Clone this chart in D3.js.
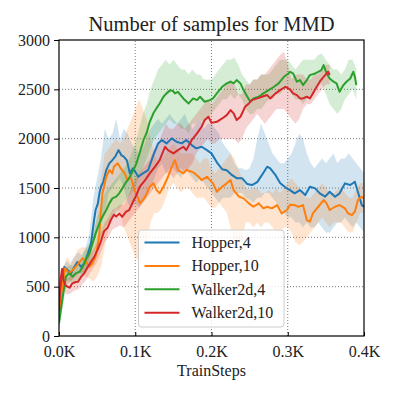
<!doctype html>
<html lang="en">
<head>
<meta charset="UTF-8">
<title>Number of samples for MMD</title>
<style>
  body { margin: 0; background: #fff; }
  svg text { font-family: "Liberation Serif", "DejaVu Serif", serif; fill: #222; }
</style>
</head>
<body>
<div class="chart"></div>
<script src="https://d3js.org/d3.v7.min.js"></script>
<script>
  // values: [trainStep, mean]
  const hopper4 = [[0,160],[3,520],[7,700],[11,670],[16,635],[20,700],[24,750],[29,700],[33,736],[38,838],[42,939],[46,1175],[48,1277],[51,1344],[53,1446],[55,1513],[58,1560],[62,1682],[66,1750],[70,1783],[74,1820],[78,1884],[82,1830],[85,1817],[89,1780],[93,1648],[97,1700],[100,1665],[104,1614],[110,1648],[117,1682],[123,1817],[130,1952],[135,1986],[141,1952],[148,2003],[154,1969],[161,1952],[167,1986],[174,1935],[180,1902],[187,1918],[194,1884],[200,1851],[207,1760],[214,1690],[220,1680],[227,1630],[233,1600],[240,1600],[247,1540],[253,1530],[260,1560],[266,1630],[273,1716],[277,1700],[284,1630],[290,1550],[297,1505],[303,1479],[309,1446],[316,1479],[323,1429],[329,1513],[336,1496],[342,1446],[349,1412],[355,1462],[362,1412],[368,1446],[375,1547],[382,1530],[388,1564],[392,1462],[397,1327],[400,1310]]
  const hopper10 = [[0,230],[5,534],[8,686],[13,635],[18,669],[22,702],[27,753],[31,787],[35,753],[40,702],[44,736],[48,804],[51,939],[53,1040],[55,1277],[57,1446],[59,1513],[62,1614],[66,1682],[70,1648],[72,1716],[77,1750],[81,1699],[86,1648],[90,1580],[94,1614],[99,1480],[103,1412],[106,1344],[110,1380],[113,1412],[119,1513],[124,1547],[128,1479],[132,1446],[137,1513],[143,1614],[148,1716],[152,1783],[156,1682],[163,1648],[167,1682],[174,1665],[178,1648],[183,1614],[187,1580],[194,1614],[198,1580],[202,1547],[207,1462],[214,1513],[220,1547],[225,1580],[229,1479],[236,1412],[242,1395],[249,1344],[255,1310],[262,1344],[268,1294],[273,1310],[279,1294],[286,1327],[292,1243],[299,1277],[303,1330],[309,1327],[314,1310],[320,1327],[325,1175],[329,1158],[333,1243],[340,1310],[347,1378],[351,1344],[355,1277],[362,1310],[368,1327],[375,1294],[379,1243],[384,1226],[388,1260],[392,1378],[397,1412],[400,1395]]
  const walker4 = [[0,130],[5,398],[9,601],[13,635],[18,601],[22,635],[27,652],[31,702],[35,770],[40,838],[44,939],[48,1040],[53,1142],[57,1209],[62,1277],[66,1344],[70,1395],[75,1412],[79,1446],[83,1496],[88,1560],[92,1600],[96,1660],[101,1740],[106,1860],[111,1990],[115,2060],[119,2170],[124,2260],[128,2310],[132,2357],[137,2425],[141,2459],[146,2492],[150,2480],[152,2459],[156,2475],[163,2408],[170,2357],[176,2408],[181,2391],[185,2425],[191,2374],[198,2391],[202,2408],[207,2459],[214,2526],[220,2560],[225,2577],[229,2560],[233,2594],[238,2560],[242,2492],[247,2425],[251,2374],[255,2408],[262,2425],[268,2459],[275,2492],[282,2526],[288,2560],[295,2627],[301,2661],[303,2678],[307,2661],[312,2577],[316,2594],[320,2543],[325,2594],[329,2644],[336,2661],[340,2678],[344,2695],[347,2746],[351,2661],[355,2610],[360,2577],[364,2560],[368,2475],[373,2543],[377,2577],[382,2610],[386,2678],[388,2627],[390,2543]]
  const walker10 = [[0,250],[2,560],[4,680],[6,560],[8,520],[11,500],[14,490],[17,530],[21,545],[25,550],[29,600],[33,635],[38,702],[42,753],[46,800],[51,880],[55,960],[59,1060],[64,1100],[68,1175],[72,1230],[75,1210],[79,1240],[83,1209],[88,1260],[92,1277],[97,1360],[101,1420],[106,1513],[113,1580],[119,1648],[126,1716],[132,1783],[139,1918],[143,1884],[150,1851],[156,1884],[163,1918],[167,1884],[174,1986],[181,2053],[187,2121],[191,2188],[196,2222],[200,2160],[207,2171],[214,2205],[220,2239],[225,2290],[229,2256],[233,2188],[238,2222],[244,2323],[249,2357],[253,2391],[260,2408],[266,2425],[273,2442],[277,2408],[284,2459],[290,2492],[297,2526],[303,2500],[307,2459],[312,2442],[316,2408],[320,2408],[325,2425],[329,2408],[333,2459],[338,2526],[342,2577],[347,2627],[351,2661],[353,2678],[355,2644]]

  // shaded spread: [trainStep, low, high]
  const hopper4Band = [[0,100,250],[5,450,700],[10,580,760],[15,560,720],[20,600,800],[25,650,850],[30,620,820],[35,650,900],[40,780,1050],[45,950,1400],[50,1050,1600],[55,1150,1800],[60,1250,2100],[65,1450,2000],[70,1500,2050],[75,1550,2200],[80,1600,2000],[85,1500,2100],[90,1350,2050],[95,1300,1950],[100,1350,1900],[105,1300,1850],[110,1350,1900],[115,1400,2000],[120,1500,2100],[125,1600,2150],[130,1700,2200],[135,1750,2150],[140,1650,2200],[145,1700,2250],[150,1700,2200],[155,1650,2150],[160,1600,2200],[165,1700,2250],[170,1650,2150],[175,1600,2100],[180,1550,2150],[185,1600,2200],[190,1550,2100],[195,1500,2150],[200,1450,2150],[205,1400,2100],[210,1350,2050],[215,1400,1950],[220,1400,1900],[225,1400,1850],[230,1450,1750],[235,1450,1700],[240,1450,1700],[245,1400,1680],[250,1380,1700],[255,1350,1800],[260,1400,2000],[265,1400,2150],[270,1450,2050],[275,1450,1950],[280,1400,1850],[285,1350,1800],[290,1300,1750],[295,1250,1750],[300,1200,1800],[305,1200,1850],[310,1150,1950],[315,1150,2050],[320,1100,2000],[325,1150,1850],[330,1100,1750],[335,1100,1700],[340,1150,1750],[345,1100,1800],[350,1050,1750],[355,1050,1800],[360,1100,1850],[365,1150,1750],[370,1150,1800],[375,1200,1800],[380,1150,1850],[385,1100,1800],[390,1150,1750],[395,1100,1700],[400,1050,1650]]
  const hopper10Band = [[0,100,300],[5,400,650],[10,550,800],[15,550,750],[20,580,800],[25,620,880],[30,650,900],[35,600,900],[40,580,850],[45,550,950],[50,600,1250],[55,700,1600],[60,900,1850],[65,1100,1900],[70,1250,1950],[75,1300,2000],[80,1250,1950],[85,1100,2000],[90,1000,2100],[95,900,2200],[100,800,2300],[105,750,2400],[110,850,2300],[115,950,2200],[120,1150,2000],[125,1250,1850],[130,1250,1750],[135,1300,1800],[140,1400,1850],[145,1500,1900],[150,1550,1950],[155,1500,1900],[160,1450,1850],[165,1500,1850],[170,1500,1850],[175,1450,1850],[180,1400,1800],[185,1400,1750],[190,1400,1800],[195,1350,1800],[200,1300,1700],[205,1300,1650],[210,1350,1700],[215,1300,1750],[220,1250,1800],[225,1100,1850],[230,950,1800],[235,900,1700],[240,1000,1600],[245,1150,1500],[250,1150,1480],[255,1100,1500],[260,1150,1500],[265,1100,1450],[270,1150,1450],[275,1150,1480],[280,1100,1450],[285,1050,1500],[290,1050,1450],[295,1100,1500],[300,1100,1550],[305,1050,1600],[310,950,1550],[315,920,1500],[320,950,1450],[325,1000,1400],[330,1050,1400],[335,1100,1450],[340,1150,1500],[345,1200,1550],[350,1150,1500],[355,1100,1450],[360,1150,1450],[365,1150,1480],[370,1150,1500],[375,1100,1450],[380,1050,1400],[385,1050,1400],[390,1150,1500],[395,1250,1550],[400,1250,1550]]
  const walker4Band = [[0,80,200],[5,300,500],[10,520,700],[15,550,720],[20,530,700],[25,560,740],[30,600,800],[35,650,880],[40,720,950],[45,820,1050],[50,920,1200],[55,1000,1300],[60,1100,1450],[65,1150,1500],[70,1200,1550],[75,1250,1600],[80,1300,1650],[85,1350,1700],[90,1400,1750],[95,1450,1850],[100,1500,1950],[105,1600,2100],[110,1700,2250],[115,1800,2350],[120,1900,2500],[125,2000,2600],[130,2050,2700],[135,2100,2750],[140,2150,2800],[145,2200,2750],[150,2150,2800],[155,2150,2750],[160,2100,2700],[165,2100,2700],[170,2050,2650],[175,2150,2700],[180,2150,2650],[185,2200,2650],[190,2150,2600],[195,2200,2600],[200,2250,2600],[205,2300,2650],[210,2350,2700],[215,2400,2750],[220,2400,2800],[225,2450,2800],[230,2400,2820],[235,2450,2750],[240,2400,2650],[245,2300,2600],[250,2250,2550],[255,2250,2600],[260,2300,2600],[265,2300,2650],[270,2350,2650],[275,2400,2650],[280,2400,2700],[285,2450,2750],[290,2450,2800],[295,2500,2800],[300,2500,2800],[305,2450,2750],[310,2400,2700],[315,2400,2750],[320,2350,2800],[325,2400,2800],[330,2450,2800],[335,2500,2800],[340,2550,2850],[345,2550,2860],[350,2450,2800],[355,2350,2750],[360,2300,2700],[365,2250,2700],[370,2300,2650],[375,2400,2700],[380,2450,2800],[385,2500,2800],[390,2400,2700]]
  const walker10Band = [[0,150,350],[5,480,650],[10,420,580],[15,430,600],[20,460,640],[25,470,640],[30,520,700],[35,560,760],[40,630,830],[45,690,880],[50,750,950],[55,850,1050],[60,950,1150],[65,1000,1200],[70,1080,1280],[75,1100,1300],[80,1120,1330],[85,1100,1330],[90,1150,1400],[95,1200,1500],[100,1250,1600],[105,1300,1650],[110,1350,1700],[115,1400,1750],[120,1450,1800],[125,1500,1900],[130,1550,1950],[135,1600,2050],[140,1650,2150],[145,1650,2100],[150,1600,2100],[155,1650,2150],[160,1700,2150],[165,1650,2100],[170,1700,2150],[175,1750,2200],[180,1850,2250],[185,1900,2300],[190,1950,2350],[195,2000,2400],[200,1950,2350],[205,1950,2400],[210,2000,2450],[215,2000,2500],[220,2000,2550],[225,2000,2600],[230,2000,2550],[235,1950,2450],[240,2000,2450],[245,2100,2550],[250,2150,2550],[255,2200,2600],[260,2250,2600],[265,2200,2650],[270,2150,2650],[275,2200,2700],[280,2250,2750],[285,2300,2800],[290,2300,2850],[295,2300,2880],[300,2250,2750],[305,2200,2600],[310,2150,2650],[315,2200,2650],[320,2300,2650],[325,2350,2600],[330,2350,2600],[335,2400,2650],[340,2450,2650],[345,2500,2700],[350,2550,2750],[355,2550,2750]]

  const seriesNames = ['Hopper,4', 'Hopper,10', 'Walker2d,4', 'Walker2d,10']
  const seriesColors = ['#1f77b4', '#ff7f0e', '#2ca02c', '#d62728']
  const xTicks = [0, 100, 200, 300, 400]
  const yTicks = [0, 500, 1000, 1500, 2000, 2500, 3000]

  const series = [
    {name: seriesNames[0], color: seriesColors[0], mean: hopper4, band: hopper4Band},
    {name: seriesNames[1], color: seriesColors[1], mean: hopper10, band: hopper10Band},
    {name: seriesNames[2], color: seriesColors[2], mean: walker4, band: walker4Band},
    {name: seriesNames[3], color: seriesColors[3], mean: walker10, band: walker10Band}
  ]

  const width = 399
  const height = 399
  const margin = {left: 59, right: 35, top: 40, bottom: 63}

  const svg = d3.select('.chart')
    .append('svg')
    .attr('width', width)
    .attr('height', height)

  const x = d3.scaleLinear()
    .domain([0, 400])
    .range([margin.left, width - margin.right])

  const y = d3.scaleLinear()
    .domain([0, 3000])
    .range([height - margin.bottom, margin.top])

  svg.append('clipPath')
    .attr('id', 'plot-clip')
    .append('rect')
    .attr('x', x(0))
    .attr('y', y(3000))
    .attr('width', x(400) - x(0))
    .attr('height', y(0) - y(3000))

  // dotted grid
  const grid = svg.append('g').attr('class', 'grid')
  grid.selectAll('line.gx')
    .data(xTicks.slice(1, -1))
    .enter()
    .append('line')
    .attr('x1', d => x(d)).attr('x2', d => x(d))
    .attr('y1', y(0)).attr('y2', y(3000))
  grid.selectAll('line.gy')
    .data(yTicks.slice(1, -1))
    .enter()
    .append('line')
    .attr('x1', x(0)).attr('x2', x(400))
    .attr('y1', d => y(d)).attr('y2', d => y(d))
  grid.selectAll('line')
    .attr('stroke', '#7a7a7a')
    .attr('stroke-width', 1)
    .attr('stroke-dasharray', '1,2')

  const plot = svg.append('g').attr('clip-path', 'url(#plot-clip)')

  const area = d3.area()
    .x(d => x(d[0]))
    .y0(d => y(d[1]))
    .y1(d => y(d[2]))

  const line = d3.line()
    .x(d => x(d[0]))
    .y(d => y(d[1]))

  plot.selectAll('path.band')
    .data(series)
    .enter()
    .append('path')
    .attr('class', 'band')
    .attr('d', d => area(d.band))
    .attr('fill', d => d.color)
    .attr('fill-opacity', 0.2)

  plot.selectAll('path.mean')
    .data(series)
    .enter()
    .append('path')
    .attr('class', 'mean')
    .attr('d', d => line(d.mean))
    .attr('fill', 'none')
    .attr('stroke', d => d.color)
    .attr('stroke-width', 2)
    .attr('stroke-linejoin', 'round')

  // axes
  const xAxis = d3.axisBottom(x)
    .tickValues(xTicks)
    .tickFormat(d => (d / 1000).toFixed(1) + 'K')
    .tickSizeInner(-4)
    .tickSizeOuter(0)
    .tickPadding(10)

  const yAxis = d3.axisLeft(y)
    .tickValues(yTicks)
    .tickFormat(d3.format('d'))
    .tickSizeInner(5)
    .tickSizeOuter(0)
    .tickPadding(4)

  const gx = svg.append('g')
    .attr('transform', `translate(0, ${y(0)})`)
    .call(xAxis)
  const gy = svg.append('g')
    .attr('transform', `translate(${x(0)}, 0)`)
    .call(yAxis)

  ;[gx, gy].forEach(g => {
    g.select('.domain').remove()
    g.selectAll('.tick line').attr('stroke', '#000').attr('stroke-width', 1)
    g.selectAll('.tick text')
      .attr('fill', '#222')
      .style('font-family', '"Liberation Serif", serif')
      .style('font-size', '16px')
  })

  // frame
  svg.append('rect')
    .attr('x', x(0))
    .attr('y', y(3000))
    .attr('width', x(400) - x(0))
    .attr('height', y(0) - y(3000))
    .attr('fill', 'none')
    .attr('stroke', '#000')
    .attr('stroke-width', 1.2)

  svg.append('text')
    .attr('x', (x(0) + x(400)) / 2)
    .attr('y', 31)
    .attr('text-anchor', 'middle')
    .style('font-size', '20.5px')
    .text('Number of samples for MMD')

  svg.append('text')
    .attr('x', (x(0) + x(400)) / 2)
    .attr('y', 376)
    .attr('text-anchor', 'middle')
    .style('font-size', '16px')
    .text('TrainSteps')

  // legend
  const legend = svg.append('g')
    .attr('transform', 'translate(138.5, 230)')

  legend.append('rect')
    .attr('width', 145.5)
    .attr('height', 97)
    .attr('rx', 3)
    .attr('fill', '#fff')
    .attr('fill-opacity', 0.8)
    .attr('stroke', '#cccccc')
    .attr('stroke-width', 1)

  const rows = legend.selectAll('g.row')
    .data(series)
    .enter()
    .append('g')
    .attr('transform', (d, i) => `translate(0, ${12.5 + i * 23.4})`)

  rows.append('line')
    .attr('x1', 6).attr('x2', 41)
    .attr('stroke', d => d.color)
    .attr('stroke-width', 2)

  rows.append('text')
    .attr('x', 53)
    .attr('y', 5.5)
    .style('font-size', '16px')
    .text(d => d.name)
</script>
</body>
</html>
